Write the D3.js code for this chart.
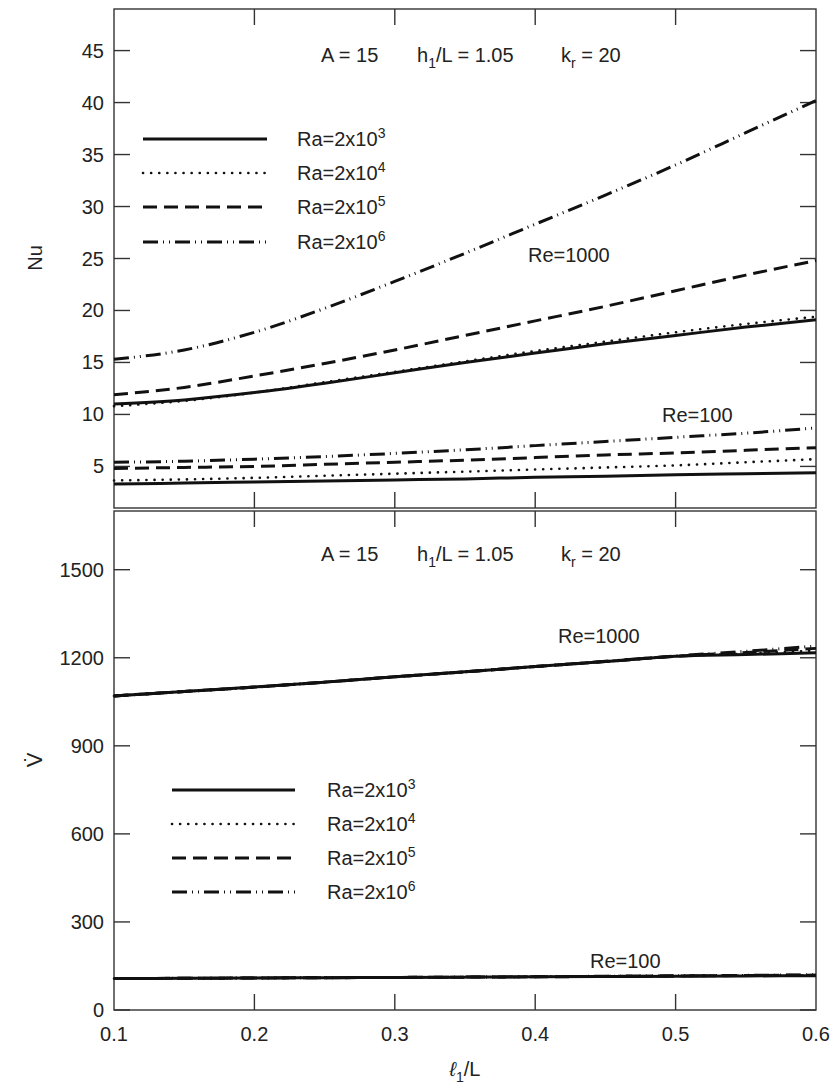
<!DOCTYPE html>
<html>
<head>
<meta charset="utf-8">
<script src="https://cdn.jsdelivr.net/npm/d3@7"></script>
<style>
  body { margin: 0; background: #fff; }
  svg text { font-family: "Liberation Sans", Arial, sans-serif; fill: #222; }
</style>
</head>
<body>
<svg id="chart" width="830" height="1085"></svg>
<script>
// x positions (l1/L)
const xVals = [0.1, 0.15, 0.2, 0.25, 0.3, 0.35, 0.4, 0.45, 0.5, 0.55, 0.6];
const xTicks = [0.1, 0.2, 0.3, 0.4, 0.5, 0.6];

// Nu, Re = 1000
const nu1000Ra3 = [11.0, 11.4, 12.1, 13.0, 14.0, 15.0, 15.9, 16.8, 17.6, 18.4, 19.1];
const nu1000Ra4 = [10.8, 11.3, 12.1, 13.1, 14.1, 15.1, 16.1, 17.0, 17.9, 18.7, 19.4];
const nu1000Ra5 = [11.9, 12.6, 13.7, 14.9, 16.2, 17.6, 19.0, 20.4, 21.9, 23.4, 24.8];
const nu1000Ra6 = [15.3, 16.2, 17.9, 20.2, 22.8, 25.5, 28.3, 31.1, 34.0, 37.1, 40.2];
// Nu, Re = 100
const nu100Ra3 = [3.3, 3.4, 3.5, 3.6, 3.7, 3.8, 3.95, 4.05, 4.2, 4.3, 4.4];
const nu100Ra4 = [3.65, 3.75, 3.9, 4.1, 4.3, 4.5, 4.7, 4.9, 5.1, 5.4, 5.7];
const nu100Ra5 = [4.8, 4.9, 5.0, 5.2, 5.4, 5.6, 5.85, 6.1, 6.3, 6.55, 6.8];
const nu100Ra6 = [5.4, 5.5, 5.7, 5.95, 6.25, 6.6, 7.0, 7.4, 7.8, 8.2, 8.7];

// volume flow, Re = 1000
const v1000Ra3 = [1070, 1085, 1100, 1117, 1135, 1152, 1170, 1187, 1205, 1211, 1217];
const v1000Ra4 = [1070, 1085, 1100, 1117, 1135, 1152, 1170, 1187, 1205, 1214, 1224];
const v1000Ra5 = [1070, 1085, 1100, 1117, 1135, 1152, 1170, 1187, 1205, 1218, 1232];
const v1000Ra6 = [1070, 1085, 1100, 1117, 1135, 1152, 1170, 1188, 1206, 1222, 1240];
// volume flow, Re = 100
const v100Ra3 = [107, 108, 109, 110, 111, 112, 113, 114, 115, 116, 117];
const v100Ra4 = [107, 108, 109, 110, 111, 112, 113, 114, 115.5, 117, 118];
const v100Ra5 = [107, 108, 109, 110, 111, 112, 113, 114.5, 116, 117.5, 119];
const v100Ra6 = [107, 108, 109, 110, 111, 112, 113.5, 115, 116.5, 118, 120];

const nuTicks = [5, 10, 15, 20, 25, 30, 35, 40, 45];
const vTicks = [0, 300, 600, 900, 1200, 1500];
const raExp = ["3", "4", "5", "6"];

// line styles per Ra
const styles = [
  { dash: null, width: 3, cap: "butt" },
  { dash: "0.1 8", width: 2.6, cap: "round" },
  { dash: "14 7", width: 3, cap: "butt" },
  { dash: "15 5 1 5 1 5", width: 3, cap: "butt" }
];

const svg = d3.select("#chart");
const left = 114, right = 816;

const x = d3.scaleLinear().domain([0.1, 0.6]).range([left, right]);
const yNu = d3.scaleLinear().domain([1, 49]).range([508, 9]);
const yV = d3.scaleLinear().domain([0, 1700]).range([1010, 511]);

function panel(y, ticks, top, bottom) {
  const g = svg.append("g");
  const tl = 16;
  // inner ticks on four sides
  ticks.forEach(t => {
    g.append("line").attr("x1", left).attr("x2", left + tl).attr("y1", y(t)).attr("y2", y(t));
    g.append("line").attr("x1", right - tl).attr("x2", right).attr("y1", y(t)).attr("y2", y(t));
  });
  xTicks.slice(1, -1).forEach(t => {
    g.append("line").attr("x1", x(t)).attr("x2", x(t)).attr("y1", top).attr("y2", top + tl);
    g.append("line").attr("x1", x(t)).attr("x2", x(t)).attr("y1", bottom - tl).attr("y2", bottom);
  });
  g.append("rect").attr("x", left).attr("y", top).attr("width", right - left).attr("height", bottom - top)
    .attr("fill", "none");
  g.selectAll("line,rect").attr("stroke", "#333").attr("stroke-width", 1.4);
  g.selectAll("text.tk").data(ticks).enter().append("text")
    .attr("x", left - 10).attr("y", d => y(d) + 7)
    .attr("text-anchor", "end").attr("font-size", 20).text(d => d);
}

panel(yNu, nuTicks, 9, 508);
panel(yV, vTicks, 511, 1010);

// x tick labels
svg.selectAll("text.xt").data(xTicks).enter().append("text")
  .attr("x", d => x(d)).attr("y", 1041).attr("text-anchor", "middle")
  .attr("font-size", 20).text(d => d.toFixed(1));

function drawSeries(ySc, sets) {
  const line = d3.line().x((d, i) => x(xVals[i])).y(d => ySc(d)).curve(d3.curveMonotoneX);
  sets.forEach((s, i) => {
    const st = styles[i];
    svg.append("path").attr("d", line(s)).attr("fill", "none")
      .attr("stroke", "#111").attr("stroke-width", st.width)
      .attr("stroke-dasharray", st.dash).attr("stroke-linecap", st.cap);
  });
}
drawSeries(yNu, [nu1000Ra3, nu1000Ra4, nu1000Ra5, nu1000Ra6]);
drawSeries(yNu, [nu100Ra3, nu100Ra4, nu100Ra5, nu100Ra6]);
drawSeries(yV, [v1000Ra3, v1000Ra4, v1000Ra5, v1000Ra6]);
drawSeries(yV, [v100Ra3, v100Ra4, v100Ra5, v100Ra6]);

function legend(x0, x1, lx, ys) {
  ys.forEach((yy, i) => {
    const st = styles[i];
    svg.append("line").attr("x1", x0).attr("x2", x1).attr("y1", yy).attr("y2", yy)
      .attr("stroke", "#111").attr("stroke-width", st.width)
      .attr("stroke-dasharray", st.dash).attr("stroke-linecap", st.cap);
    const t = svg.append("text").attr("x", lx).attr("y", yy + 7).attr("font-size", 20);
    t.append("tspan").text("Ra=2x10");
    t.append("tspan").attr("dy", -8).attr("font-size", 14).text(raExp[i]);
  });
}
legend(143, 267, 297, [139, 173, 207, 242]);
legend(172, 295, 327, [790, 824, 858, 892]);

function params(yy) {
  const t = svg.append("text").attr("y", yy).attr("font-size", 20);
  t.append("tspan").attr("x", 321).text("A = 15");
  t.append("tspan").attr("x", 417).text("h");
  t.append("tspan").attr("dy", 6).attr("font-size", 14).text("1");
  t.append("tspan").attr("dy", -6).text("/L = 1.05");
  t.append("tspan").attr("x", 561).text("k");
  t.append("tspan").attr("dy", 6).attr("font-size", 14).text("r");
  t.append("tspan").attr("dy", -6).text(" = 20");
}
params(62);
params(561);

const notes = [
  { t: "Re=1000", x: 528, y: 262 },
  { t: "Re=100", x: 662, y: 422 },
  { t: "Re=1000", x: 558, y: 643 },
  { t: "Re=100", x: 590, y: 968 }
];
svg.selectAll("text.note").data(notes).enter().append("text")
  .attr("x", d => d.x).attr("y", d => d.y).attr("font-size", 20).text(d => d.t);

// axis titles
svg.append("text").attr("transform", "translate(42,258) rotate(-90)")
  .attr("text-anchor", "middle").attr("font-size", 20).text("Nu");
svg.append("text").attr("transform", "translate(42,760) rotate(-90)")
  .attr("text-anchor", "middle").attr("font-size", 22).text("V\u0307");
const xl = svg.append("text").attr("x", 465).attr("y", 1076).attr("text-anchor", "middle").attr("font-size", 20);
xl.append("tspan").attr("font-style", "italic").text("\u2113");
xl.append("tspan").attr("dy", 6).attr("font-size", 14).text("1");
xl.append("tspan").attr("dy", -6).text("/L");
</script>
</body>
</html>
